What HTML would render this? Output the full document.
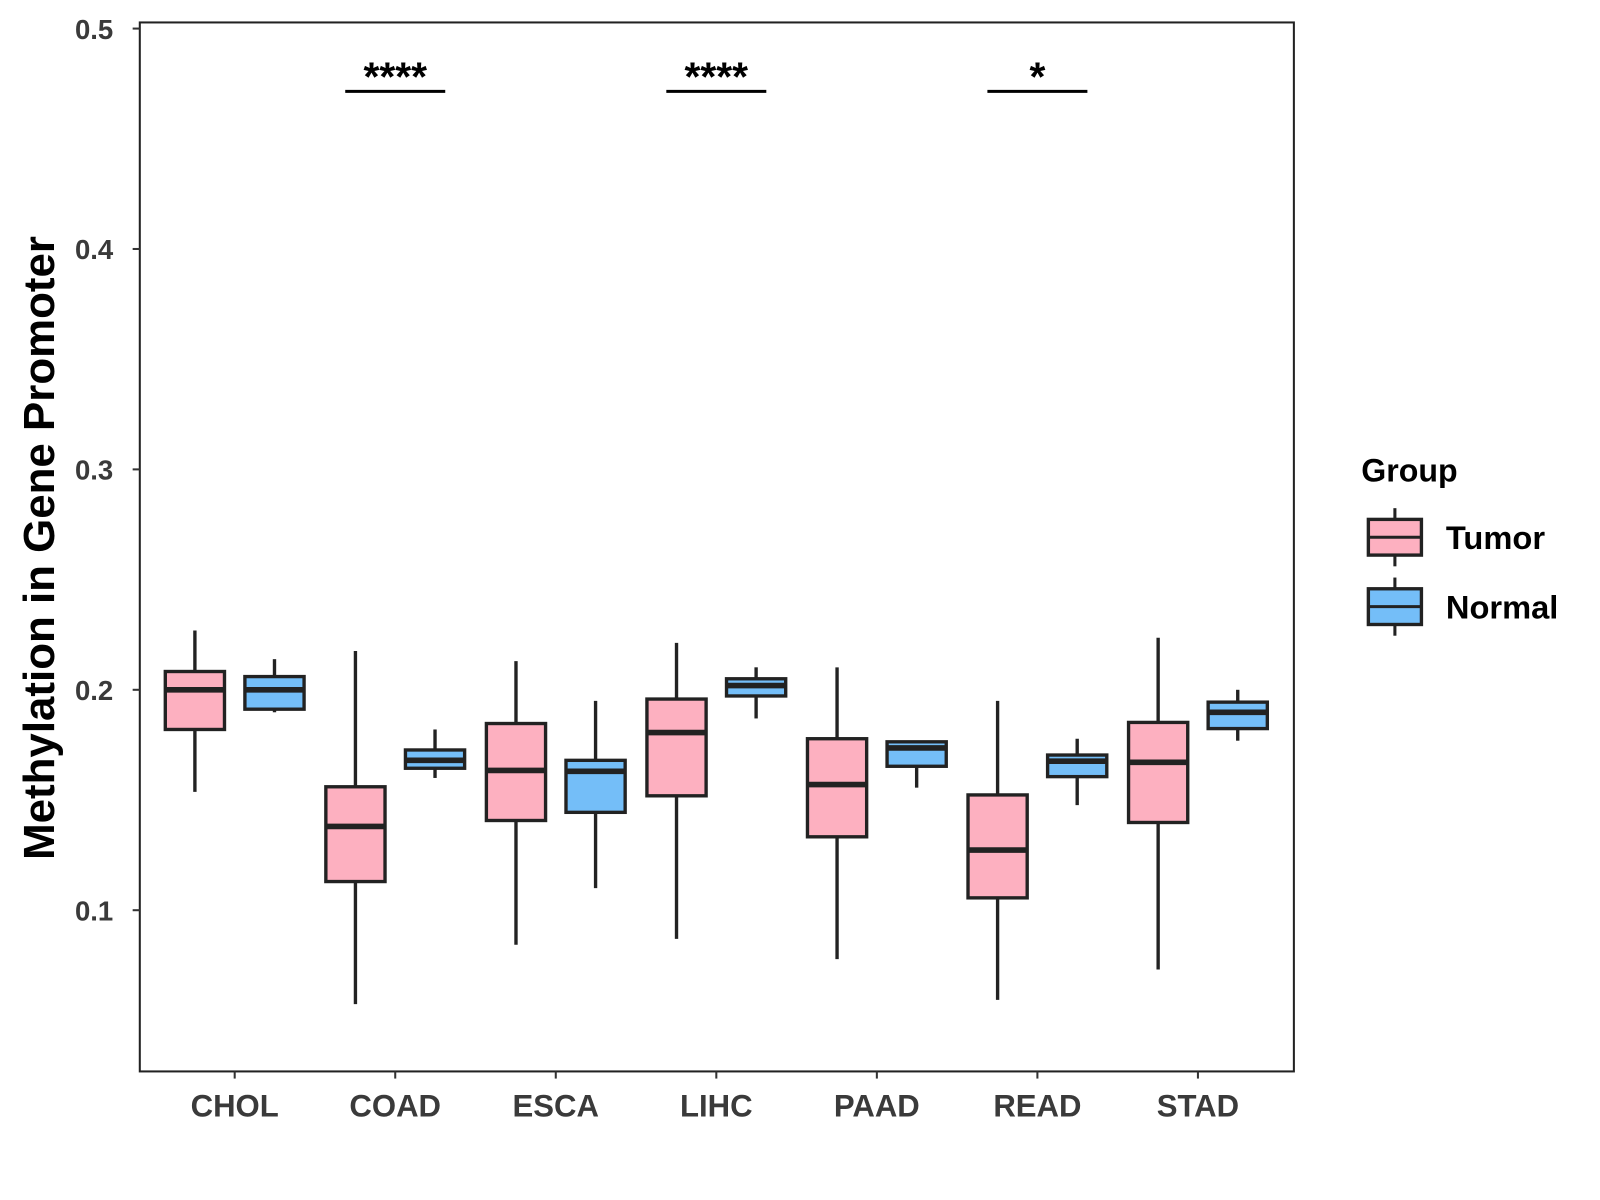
<!DOCTYPE html>
<html><head><meta charset="utf-8"><style>
html,body{margin:0;padding:0;background:#fff;width:1600px;height:1200px;overflow:hidden}
svg text{font-family:"Liberation Sans",Arial,sans-serif;font-weight:bold}
</style></head><body>
<svg id="chart" width="1600" height="1200" viewBox="0 0 1568 1176" xmlns="http://www.w3.org/2000/svg"></svg>
<script>
const categories=["CHOL","COAD","ESCA","LIHC","PAAD","READ","STAD"];
const groups=["Tumor","Normal"];
// [whiskerLow, q1, median, q3, whiskerHigh]
const tumorStats=[
[0.1537,0.182,0.2,0.2083,0.2269],
[0.0574,0.113,0.138,0.156,0.2176],
[0.0843,0.1407,0.1634,0.1847,0.213],
[0.087,0.1519,0.1806,0.1958,0.2213],
[0.0778,0.1333,0.157,0.1778,0.2102],
[0.0593,0.1056,0.1273,0.1523,0.195],
[0.0731,0.1398,0.1671,0.1852,0.2236]];
const normalStats=[
[0.1898,0.1912,0.2,0.206,0.2139],
[0.160,0.1644,0.168,0.1727,0.182],
[0.110,0.1444,0.163,0.168,0.195],
[0.187,0.1972,0.2019,0.205,0.2102],
[0.1556,0.1653,0.1736,0.1764,0.1764],
[0.1477,0.1606,0.1676,0.1704,0.1778],
[0.1769,0.1824,0.1898,0.1944,0.2]];
const yTicks=[0.1,0.2,0.3,0.4,0.5];
const yTickLabels=["0.1","0.2","0.3","0.4","0.5"];
const sigCategories=["COAD","LIHC","READ"];
const sigLabels=["****","****","*"];
const sigValue=0.4715;

const svg=document.getElementById('chart');
const NS="http://www.w3.org/2000/svg";
const P={l:137,r:1268,t:22,b:1050};
const y=v=>28+(0.5-v)*2160;
const x=i=>230+i*157.33;
const colors={Tumor:"#FDB0C0",Normal:"#74BEF8"};
function el(t,a,p){const e=document.createElementNS(NS,t);for(const k in a)e.setAttribute(k,a[k]);(p||svg).appendChild(e);return e;}

const panel=el('rect',{x:P.l,y:P.t,width:P.r-P.l,height:P.b-P.t,fill:'#fff',stroke:'#222','stroke-width':2});



yTicks.forEach((v,i)=>{
  const t=el('line',{x1:P.l-7,x2:P.l,y1:y(v),y2:y(v),stroke:'#333','stroke-width':2});
  
  
  const tx=el('text',{x:P.l-26,y:y(v)+10,'text-anchor':'end','font-size':27,fill:'#3a3a3a'});
  tx.textContent=yTickLabels[i];
  
  
});
categories.forEach((c,i)=>{
  const t=el('line',{x1:x(i),x2:x(i),y1:P.b,y2:P.b+7,stroke:'#333','stroke-width':2});
  
  
  const tx=el('text',{x:x(i),y:1094,'text-anchor':'middle','font-size':30.5,fill:'#3a3a3a'});
  tx.textContent=c;
  
  
});

function box(cx,s,g){
  const w=58;
  const gEl=el('g',{});
  
  
  el('line',{x1:cx,x2:cx,y1:y(s[4]),y2:y(s[0]),stroke:'#222','stroke-width':3.3},gEl);
  el('rect',{x:cx-w/2,y:y(s[3]),width:w,height:y(s[1])-y(s[3]),fill:colors[g],stroke:'#222','stroke-width':3.3},gEl);
  el('line',{x1:cx-w/2,x2:cx+w/2,y1:y(s[2]),y2:y(s[2]),stroke:'#222','stroke-width':5.5},gEl);
}
categories.forEach((c,i)=>{box(x(i)-39,tumorStats[i],'Tumor');box(x(i)+39,normalStats[i],'Normal');});

sigCategories.forEach((c,k)=>{
  const i=categories.indexOf(c);
  const l=el('line',{x1:x(i)-49,x2:x(i)+49,y1:y(sigValue),y2:y(sigValue),stroke:'#000','stroke-width':3});
  
  
  const t=el('text',{x:x(i),y:y(sigValue)-1,'text-anchor':'middle','font-size':40,fill:'#000'});
  t.textContent=sigLabels[k];
  
  
});

const yt=el('text',{x:0,y:0,transform:'translate(53,537) rotate(-90)','text-anchor':'middle','font-size':43,fill:'#000'});
yt.textContent='Methylation in Gene Promoter';



const lt=el('text',{x:1334,y:472,'font-size':31.5,fill:'#000'});
lt.textContent='Group';


groups.forEach((g,k)=>{
  const top=509+k*68;
  const lg=el('g',{});
  
  
  el('line',{x1:1367,x2:1367,y1:top-11,y2:top+46,stroke:'#222','stroke-width':3},lg);
  el('rect',{x:1341,y:top,width:52,height:35,fill:colors[g],stroke:'#222','stroke-width':3.3},lg);
  el('line',{x1:1341,x2:1393,y1:top+17.5,y2:top+17.5,stroke:'#222','stroke-width':3},lg);
  const t=el('text',{x:1417,y:top+29,'font-size':32,fill:'#000'},lg);
  t.textContent=g;
});
</script>
</body></html>
